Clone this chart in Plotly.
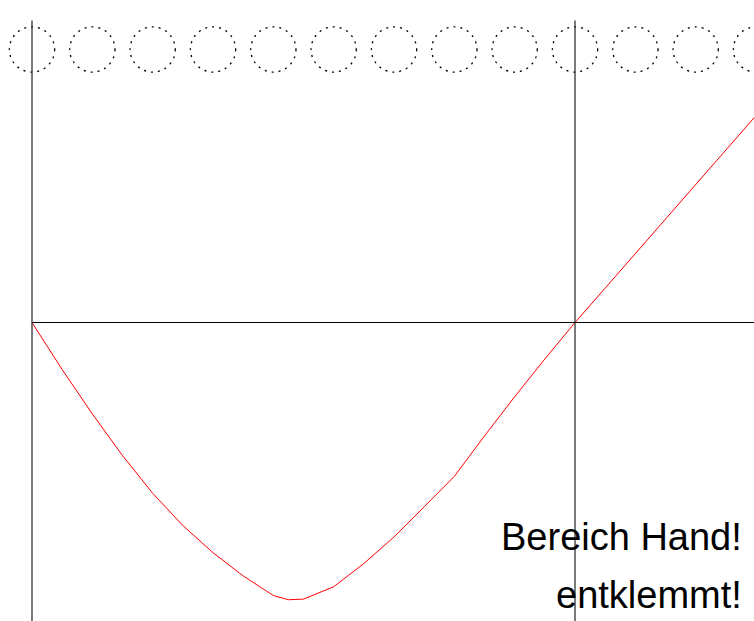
import plotly.graph_objects as go

# Curve data (angle in degrees, value)
angle = [0, 10, 20, 30, 40, 50, 60, 70, 80, 85, 90, 100, 110, 120, 130, 140,
         150, 160, 170, 180, 190, 200, 210, 220, 230, 240]
value = [0, -15.6, -30.3, -44.1, -56.6, -67.3, -76.3, -84.0, -90.5, -91.9, -91.7,
         -87.6, -79.9, -71.1, -61.1, -51.0, -37.6, -24.6, -12.1, 0, 11.4, 22.8,
         34.2, 45.6, 57.0, 68.6]

# Dotted circles along the top
circle_x = [0, 20, 40, 60, 80, 100, 120, 140, 160, 180, 200, 220, 240]
circle_y = 90.5
circle_r = 7.5

# Reference lines
vlines_x = [0, 180]
vline_top = 100.1
hline_y = 0

labels = ["Bereich Hand!", "entklemmt!"]

W, H = 754, 621
scale = 3.0167
x_range = [-32 / scale, (W - 32) / scale]
y_range = [(322.5 - H) / scale, 322.5 / scale]

fig = go.Figure()

fig.add_trace(go.Scatter(x=angle, y=value, mode="lines",
                         line=dict(color="red", width=1), hoverinfo="skip",
                         showlegend=False))

shapes = []
for cx in circle_x:
    shapes.append(dict(type="circle", xref="x", yref="y",
                       x0=cx - circle_r, x1=cx + circle_r,
                       y0=circle_y - circle_r, y1=circle_y + circle_r,
                       line=dict(color="black", width=1.3, dash="2px,5px")))
for vx in vlines_x:
    shapes.append(dict(type="line", xref="x", yref="y",
                       x0=vx, x1=vx, y0=vline_top, y1=y_range[0] - 5,
                       line=dict(color="#333333", width=1.3)))
shapes.append(dict(type="line", xref="x", yref="y",
                   x0=0, x1=x_range[1] + 5, y0=hline_y, y1=hline_y,
                   line=dict(color="black", width=1)))

annotations = []
label_y_px = [537, 595]
for txt, ypx in zip(labels, label_y_px):
    annotations.append(dict(text=txt, xref="paper", yref="paper",
                            x=744 / W, y=1 - ypx / H,
                            xanchor="right", yanchor="middle",
                            showarrow=False,
                            font=dict(family="Liberation Sans, Arial", size=38,
                                      color="black")))

fig.update_layout(
    width=W, height=H, autosize=False,
    margin=dict(l=0, r=0, t=0, b=0, pad=0),
    paper_bgcolor="white", plot_bgcolor="white",
    xaxis=dict(range=x_range, visible=False, showgrid=False, zeroline=False),
    yaxis=dict(range=y_range, visible=False, showgrid=False, zeroline=False),
    shapes=shapes, annotations=annotations, showlegend=False,
)

fig.write_html("out.html", config={"displayModeBar": False},
               post_script="document.body.style.margin='0';document.body.style.overflow='hidden';")
